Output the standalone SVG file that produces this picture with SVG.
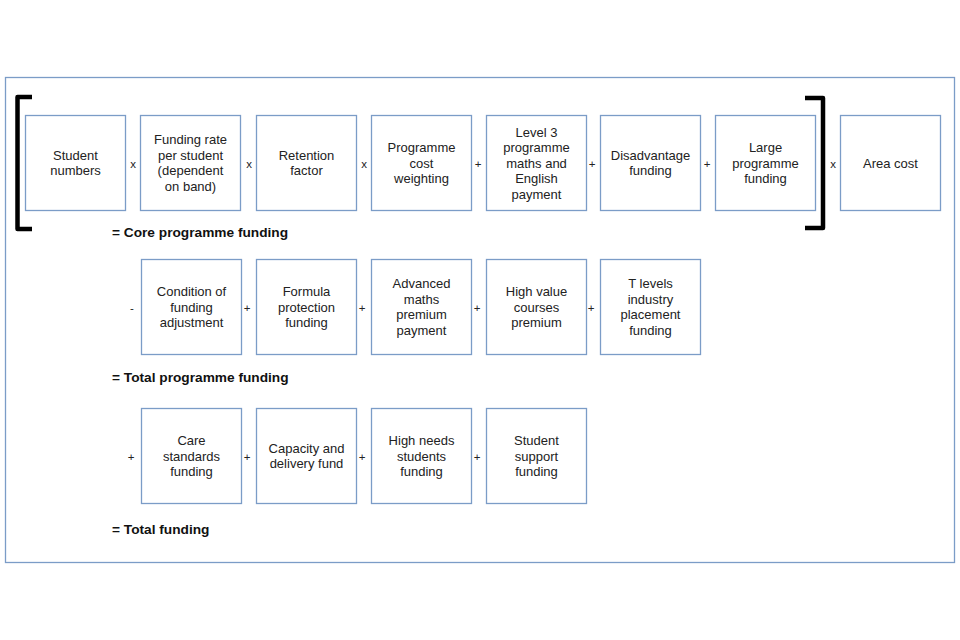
<svg xmlns="http://www.w3.org/2000/svg" width="960" height="640" viewBox="0 0 960 640">
<style>
.box{fill:#fff;stroke:#7b9cc7;stroke-width:1.3}
.t{font-family:"Liberation Sans",Arial,sans-serif;font-size:13px;fill:#222;text-anchor:middle}
.op{font-family:"Liberation Sans",Arial,sans-serif;font-size:11.5px;fill:#222;text-anchor:middle}
.lbl{font-family:"Liberation Sans",Arial,sans-serif;font-size:13.7px;font-weight:bold;fill:#111}
.br{fill:none;stroke:#000;stroke-width:4.5;stroke-linejoin:round}
</style>
<rect width="960" height="640" fill="#fff"/>
<rect x="5.5" y="77.5" width="949" height="485" fill="none" stroke="#7b9cc7" stroke-width="1.3"/>

<g id="brackets">
<path class="br" d="M32 97 H17.5 V229 H32"/>
<path class="br" d="M805 98 H823 V228 H805"/>
</g>

<g id="n1"><rect class="box" x="25.5" y="115.5" width="100" height="95"/><text class="t" x="75.5" y="159.7">Student</text><text class="t" x="75.5" y="175.2">numbers</text></g>
<g id="n2"><rect class="box" x="140.5" y="115.5" width="100" height="95"/><text class="t" x="190.5" y="144.2">Funding rate</text><text class="t" x="190.5" y="159.7">per student</text><text class="t" x="190.5" y="175.2">(dependent</text><text class="t" x="190.5" y="190.7">on band)</text></g>
<g id="n3"><rect class="box" x="256.5" y="115.5" width="100" height="95"/><text class="t" x="306.5" y="159.7">Retention</text><text class="t" x="306.5" y="175.2">factor</text></g>
<g id="n4"><rect class="box" x="371.5" y="115.5" width="100" height="95"/><text class="t" x="421.5" y="152">Programme</text><text class="t" x="421.5" y="167.5">cost</text><text class="t" x="421.5" y="183">weighting</text></g>
<g id="n5"><rect class="box" x="486.5" y="115.5" width="100" height="95"/><text class="t" x="536.5" y="136.5">Level 3</text><text class="t" x="536.5" y="152">programme</text><text class="t" x="536.5" y="167.5">maths and</text><text class="t" x="536.5" y="183">English</text><text class="t" x="536.5" y="198.5">payment</text></g>
<g id="n6"><rect class="box" x="600.5" y="115.5" width="100" height="95"/><text class="t" x="650.5" y="159.7">Disadvantage</text><text class="t" x="650.5" y="175.2">funding</text></g>
<g id="n7"><rect class="box" x="715.5" y="115.5" width="100" height="95"/><text class="t" x="765.5" y="152">Large</text><text class="t" x="765.5" y="167.5">programme</text><text class="t" x="765.5" y="183">funding</text></g>
<g id="n8"><rect class="box" x="840.5" y="115.5" width="100" height="95"/><text class="t" x="890.5" y="167.5">Area cost</text></g>

<g id="n9"><rect class="box" x="141.5" y="259.5" width="100" height="95"/><text class="t" x="191.5" y="296">Condition of</text><text class="t" x="191.5" y="311.5">funding</text><text class="t" x="191.5" y="327">adjustment</text></g>
<g id="n10"><rect class="box" x="256.5" y="259.5" width="100" height="95"/><text class="t" x="306.5" y="296">Formula</text><text class="t" x="306.5" y="311.5">protection</text><text class="t" x="306.5" y="327">funding</text></g>
<g id="n11"><rect class="box" x="371.5" y="259.5" width="100" height="95"/><text class="t" x="421.5" y="288.2">Advanced</text><text class="t" x="421.5" y="303.7">maths</text><text class="t" x="421.5" y="319.2">premium</text><text class="t" x="421.5" y="334.7">payment</text></g>
<g id="n12"><rect class="box" x="486.5" y="259.5" width="100" height="95"/><text class="t" x="536.5" y="296">High value</text><text class="t" x="536.5" y="311.5">courses</text><text class="t" x="536.5" y="327">premium</text></g>
<g id="n13"><rect class="box" x="600.5" y="259.5" width="100" height="95"/><text class="t" x="650.5" y="288.2">T levels</text><text class="t" x="650.5" y="303.7">industry</text><text class="t" x="650.5" y="319.2">placement</text><text class="t" x="650.5" y="334.7">funding</text></g>

<g id="n14"><rect class="box" x="141.5" y="408.5" width="100" height="95"/><text class="t" x="191.5" y="445">Care</text><text class="t" x="191.5" y="460.5">standards</text><text class="t" x="191.5" y="476">funding</text></g>
<g id="n15"><rect class="box" x="256.5" y="408.5" width="100" height="95"/><text class="t" x="306.5" y="452.7">Capacity and</text><text class="t" x="306.5" y="468.2">delivery fund</text></g>
<g id="n16"><rect class="box" x="371.5" y="408.5" width="100" height="95"/><text class="t" x="421.5" y="445">High needs</text><text class="t" x="421.5" y="460.5">students</text><text class="t" x="421.5" y="476">funding</text></g>
<g id="n17"><rect class="box" x="486.5" y="408.5" width="100" height="95"/><text class="t" x="536.5" y="445">Student</text><text class="t" x="536.5" y="460.5">support</text><text class="t" x="536.5" y="476">funding</text></g>

<g id="connectors">
<text class="op" x="133" y="168">x</text>
<text class="op" x="249" y="168">x</text>
<text class="op" x="364" y="168">x</text>
<text class="op" x="478" y="168">+</text>
<text class="op" x="592" y="168">+</text>
<text class="op" x="707" y="168">+</text>
<text class="op" x="833" y="168">x</text>
<text class="op" x="132" y="312">-</text>
<text class="op" x="247" y="312">+</text>
<text class="op" x="362" y="312">+</text>
<text class="op" x="477" y="312">+</text>
<text class="op" x="591" y="312">+</text>
<text class="op" x="131" y="461">+</text>
<text class="op" x="247" y="461">+</text>
<text class="op" x="362" y="461">+</text>
<text class="op" x="477" y="461">+</text>
</g>

<g id="labels">
<text class="lbl" x="112" y="237">= Core programme funding</text>
<text class="lbl" x="112" y="382">= Total programme funding</text>
<text class="lbl" x="112" y="534">= Total funding</text>
</g>
</svg>
